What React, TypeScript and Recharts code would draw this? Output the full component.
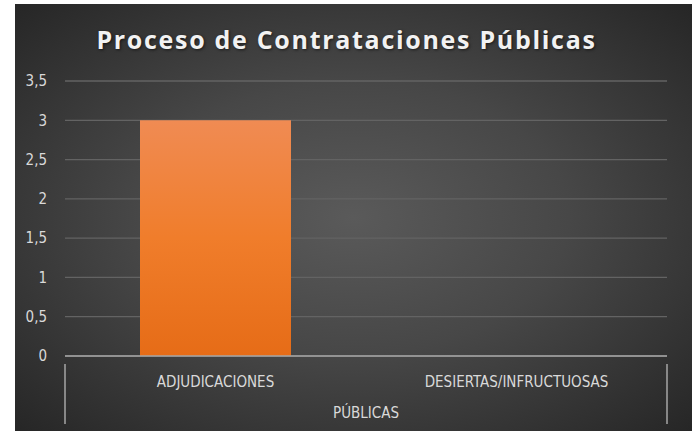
import React from 'react';
import { BarChart, Bar, XAxis, YAxis, CartesianGrid } from 'recharts';

const categories = ['ADJUDICACIONES', 'DESIERTAS/INFRUCTUOSAS'];
const groups = ['PÚBLICAS', 'PÚBLICAS'];
const values = [3, 0];
const yTicks = [0, 0.5, 1, 1.5, 2, 2.5, 3, 3.5];
const title = 'Proceso de Contrataciones Públicas';

const data = categories.map((name, i) => ({ name, group: groups[i], value: values[i] }));

const W = 677;
const H = 427;
const CAT_AXIS_H = 46;
const FONT = '"Liberation Sans Narrow", "DejaVu Sans Condensed", sans-serif';

// group label with the bracket lines on both sides of the whole axis
const GroupTick = (props: any) => {
  const { x, y, payload, width } = props;
  const left = x - width / 2;
  const right = x + width / 2;
  const top = y - CAT_AXIS_H;
  return (
    <g>
      <line x1={left} x2={left} y1={top} y2={y + 14} stroke="#a6a6a6" strokeWidth={1.5} />
      <line x1={right} x2={right} y1={top} y2={y + 14} stroke="#a6a6a6" strokeWidth={1.5} />
      <text x={x} y={y + 8} textAnchor="middle" fill="#d9d9d9" fontSize={15} fontFamily={FONT}>
        {payload.value}
      </text>
    </g>
  );
};

export default function App() {
  return (
    <div
      style={{
        position: 'absolute',
        left: 15,
        top: 4,
        width: W,
        height: H,
        background: 'radial-gradient(ellipse at 50% 50%, #5a5a5a 0%, #474747 45%, #262626 100%)',
        overflow: 'hidden',
      }}
    >
      <div
        style={{
          position: 'absolute',
          top: 18,
          left: -7,
          width: '100%',
          textAlign: 'center',
          color: '#f2f2f2',
          fontFamily: '"Open Sans", sans-serif',
          fontWeight: 700,
          fontSize: 25,
          letterSpacing: 1.7,
          textShadow: '1px 1px 3px rgba(0,0,0,0.6)',
        }}
      >
        {title}
      </div>
      <BarChart width={W} height={H} data={data} margin={{ top: 77, right: 25, bottom: 0, left: 0 }}>
        <defs>
          <linearGradient id="barFill" x1="0" y1="0" x2="0" y2="1">
            <stop offset="0%" stopColor="#f08b53" />
            <stop offset="50%" stopColor="#f07d2b" />
            <stop offset="100%" stopColor="#e66c17" />
          </linearGradient>
        </defs>
        <CartesianGrid vertical={false} stroke="#636363" strokeWidth={1.3} />
        <XAxis
          dataKey="name"
          height={CAT_AXIS_H}
          axisLine={{ stroke: '#a6a6a6', strokeWidth: 1.5 }}
          tickLine={false}
          tick={{ fill: '#d9d9d9', fontSize: 15, fontFamily: FONT }}
          tickMargin={14}
        />
        <XAxis
          xAxisId="grp"
          dataKey="group"
          allowDuplicatedCategory={false}
          height={29}
          axisLine={false}
          tickLine={false}
          tick={<GroupTick />}
          interval={0}
        />
        <YAxis
          domain={[0, 3.5]}
          ticks={yTicks}
          width={50}
          axisLine={false}
          tickLine={false}
          tickMargin={12}
          tick={{ fill: '#d9d9d9', fontSize: 15, fontFamily: FONT }}
          tickFormatter={(v: number) => String(v).replace('.', ',')}
        />
        <Bar dataKey="value" fill="url(#barFill)" barSize={151} isAnimationActive={false} />
      </BarChart>
    </div>
  );
}
